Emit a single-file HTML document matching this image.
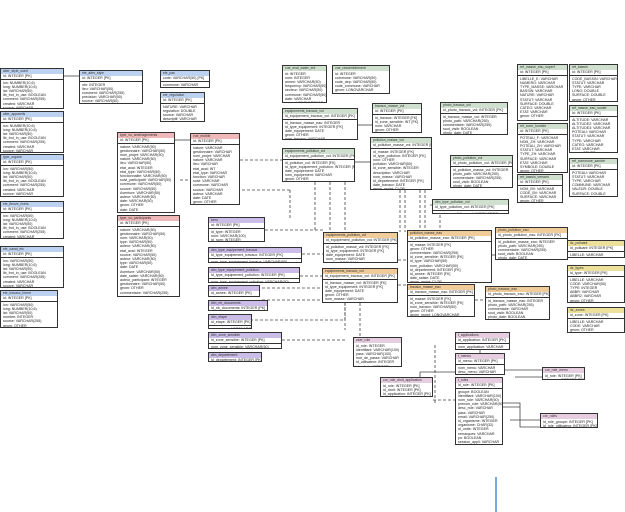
<!DOCTYPE html>
<html><head><meta charset="utf-8"><style>
html,body{margin:0;padding:0;background:#fff;width:625px;height:512px;overflow:hidden;position:relative}
.t{position:absolute;border:1px solid #333;background:#fff;overflow:hidden;font:3.6px/4.2px "Liberation Sans",sans-serif;color:#222;box-sizing:border-box}
.h{height:4.5px;font:3.4px/4.5px "Liberation Sans",sans-serif;padding-left:2px;color:#333;white-space:nowrap}
.p{border-bottom:1px solid #333;padding-left:2px;white-space:nowrap;height:5px;line-height:5px}
.b{padding:1px 2px;white-space:nowrap}
.B{background:#bcd2f0}.R{background:#f0b8b8}.P{background:#cbbde8}.G{background:#cfe0cf}.O{background:#f0cc9a}.Y{background:#ece09a}.L{background:#e6cde0}
svg{position:absolute;left:0;top:0}
</style></head><body>
<svg width="625" height="512">
<g stroke="#444" stroke-width="0.8" fill="none" stroke-dasharray="3,2">
<path d="M265 230 H323"/><path d="M302 254 H323"/><path d="M300 276 H322"/><path d="M262 288 H322"/>
<path d="M262 300 H340 V303"/><path d="M250 320 H345 V303"/><path d="M282 340 H345"/>
<path d="M315 182 V232"/><path d="M330 182 V232"/><path d="M345 182 V232"/>
<path d="M290 190 H240"/><path d="M290 190 V220"/>
<path d="M400 190 V232"/><path d="M405 190 V232"/><path d="M420 190 V268"/><path d="M425 190 V268"/>
<path d="M430 205 H440 V230"/><path d="M398 260 H407"/><path d="M398 285 H407"/>
<path d="M475 300 H485"/><path d="M345 303 V330"/><path d="M360 303 V340"/>
<path d="M180 180 H190"/><path d="M240 160 H282"/>
<path d="M435 345 V405"/><path d="M433 400 H455"/>
</g>
<g stroke="#444" stroke-width="0.8" fill="none">
<path d="M64 76 H79"/><path d="M175 140 H190"/>
<path d="M358 125 H372"/><path d="M355 162 H370"/><path d="M492 255 H500"/>
<path d="M420 372 H455"/><path d="M420 372 V377"/><path d="M505 370 H542"/><path d="M515 377 H542"/>
<path d="M503 403 H520 V427 H540"/><path d="M503 407 H520"/><path d="M510 420 H540"/>
<path d="M480 350 V353"/>
</g>
<path d="M496 477 V512" stroke="#7aa8e0" stroke-width="2"/>
</svg>

<div class="t" style="left:0;top:68px;width:64px;height:41px"><div class="h B">alter_style_used</div><div class="p">id: INTEGER [PK]</div><div class="b">lon: NUMBER(10,6)<br>long: NUMBER(10,6)<br>lat: VARCHAR(50)<br>lib_frot_in_use: BOOLEAN<br>comment: VARCHAR(255)<br>created: VARCHAR<br>source: VARCHAR<br>geom: OTHER</div></div>
<div class="t" style="left:0;top:111px;width:64px;height:42px"><div class="h B">alter_appareils</div><div class="p">id: INTEGER [PK]</div><div class="b">lon: NUMBER(10,6)<br>long: NUMBER(10,6)<br>lat: VARCHAR(50)<br>lib_frot_in_use: BOOLEAN<br>comment: VARCHAR(255)<br>created: VARCHAR<br>source: VARCHAR<br>geom: OTHER</div></div>
<div class="t" style="left:0;top:154px;width:64px;height:43px"><div class="h B">type_organe</div><div class="p">id: INTEGER [PK]</div><div class="b">lon: VARCHAR(50)<br>long: NUMBER(10,6)<br>lat: VARCHAR(50)<br>lib_frot_in_use: BOOLEAN<br>comment: VARCHAR(255)<br>created: VARCHAR<br>source: VARCHAR<br>geom: OTHER<br>geom_alt: OTHER</div></div>
<div class="t" style="left:0;top:201px;width:64px;height:38px"><div class="h B">ele_fleuve_rivers</div><div class="p">id: INTEGER [PK]</div><div class="b">lon: VARCHAR(50)<br>long: NUMBER(10,6)<br>lat: VARCHAR(50)<br>lib_frot_in_use: BOOLEAN<br>comment: VARCHAR(255)<br>created: VARCHAR<br>source: VARCHAR<br>geom: OTHER</div></div>
<div class="t" style="left:0;top:246px;width:64px;height:42px"><div class="h B">ele_canal_etc</div><div class="p">id: INTEGER [PK]</div><div class="b">lon: VARCHAR(50)<br>long: NUMBER(10,6)<br>lat: VARCHAR(50)<br>lib_frot_in_use: BOOLEAN<br>comment: VARCHAR(255)<br>created: VARCHAR<br>source: VARCHAR<br>geom: OTHER</div></div>
<div class="t" style="left:0;top:290px;width:58px;height:38px"><div class="h B">ele_travaux_forme</div><div class="p">id: INTEGER [PK]</div><div class="b">lon: VARCHAR(50)<br>long: NUMBER(10,6)<br>lat: VARCHAR(50)<br>nombre: INTEGER<br>source: VARCHAR(255)<br>geom: OTHER<br>geom: OTHER</div></div>
<div class="t" style="left:79px;top:70px;width:64px;height:34px"><div class="h B">ele_alter_style</div><div class="p">id: INTEGER [PK]</div><div class="b">nbr: INTEGER<br>lieu: VARCHAR(50)<br>comment: VARCHAR(255)<br>precision: VARCHAR(50)<br>source: VARCHAR(50)<br>geom: LONGVARCHAR</div></div>
<div class="t" style="left:160px;top:70px;width:50px;height:18px"><div class="h B">ele_pas</div><div class="p">code: VARCHAR(50) [PK]</div><div class="b">commune: VARCHAR<br>geom: OTHER</div></div>
<div class="t" style="left:160px;top:92px;width:45px;height:30px"><div class="h B">ele_regulation</div><div class="p">id: INTEGER [PK]</div><div class="b">NATURE: VARCHAR<br>regulation: DOUBLE<br>source: VARCHAR<br>descriptif: VARCHAR<br>geom: OTHER</div></div>

<div class="t" style="left:117px;top:132px;width:58px;height:81px"><div class="h R">type_vo_aménagements</div><div class="p">id: INTEGER [PK]</div><div class="b">nature: VARCHAR(50)<br>gestionnaire: VARCHAR(50)<br>nom_projet: VARCHAR(50)<br>nature: VARCHAR(50)<br>lieu: VARCHAR(50)<br>etat_aval: INTEGER<br>etat_type: VARCHAR(50)<br>fonctionnalite: VARCHAR(50)<br>suivi_participatif: VARCHAR(50)<br>commune: VARCHAR(50)<br>source: VARCHAR(50)<br>Aventure: VARCHAR(50)<br>auteur: VARCHAR(50)<br>date: VARCHAR(50)<br>geom: OTHER<br>date: DATE<br>id_date: INTEGER [FK]<br>geom_projet: LONGVARCHAR</div></div>
<div class="t" style="left:117px;top:215px;width:63px;height:82px"><div class="h R">type_vo_participants</div><div class="p">id: INTEGER [PK]</div><div class="b">nature: VARCHAR(50)<br>gestionnaire: VARCHAR(50)<br>nom: VARCHAR(50)<br>type: VARCHAR(50)<br>auteur: VARCHAR(50)<br>etat_aval: INTEGER<br>source: VARCHAR(50)<br>auteur: VARCHAR(50)<br>type: VARCHAR(50)<br>date: DATE<br>Aventure: VARCHAR(50)<br>date_saisie: VARCHAR(50)<br>auteur_participant: INTEGER<br>gestionnaire: VARCHAR(50)<br>geom: OTHER<br>commentaire: VARCHAR(255)</div></div>
<div class="t" style="left:190px;top:133px;width:50px;height:72px"><div class="h R">vue_mobile</div><div class="p">id: INTEGER [PK]</div><div class="b">nature: VARCHAR<br>gestionnaire: VARCHAR<br>nom_projet: VARCHAR<br>nature: VARCHAR<br>lieu: VARCHAR<br>etat_aval: INT<br>etat_type: VARCHAR<br>fonction: VARCHAR<br>suivi: VARCHAR<br>commune: VARCHAR<br>source: VARCHAR<br>auteur: VARCHAR<br>date: DATE<br>geom: OTHER</div></div>

<div class="t" style="left:208px;top:217px;width:57px;height:25px"><div class="h P">bero</div><div class="p">id: INTEGER [PK]</div><div class="b">id_type: INTEGER<br>nom: VARCHAR(100)<br>id_nom: INTEGER<br>date_ref: VARCHAR(100)</div></div>
<div class="t" style="left:208px;top:247px;width:94px;height:16px"><div class="h P">dim_type_equipement_travaux</div><div class="p">id_type_equipement_travaux: INTEGER [PK]</div><div class="b">nom_type_equipement_travaux: VARCHAR(50)</div></div>
<div class="t" style="left:208px;top:267px;width:92px;height:16px"><div class="h P">dim_type_equipement_pollution</div><div class="p">id_type_equipement_pollution: INTEGER [PK]</div><div class="b">nom_type_equipement_pollution: VARCHAR(50)</div></div>
<div class="t" style="left:208px;top:285px;width:52px;height:12px"><div class="h P">dim_annee</div><div class="p">id_annee: INTEGER [PK]</div></div>
<div class="t" style="left:208px;top:300px;width:60px;height:11px"><div class="h P">dim_nb_documents</div><div class="p">id_nb_documents: INTEGER [PK]</div></div>
<div class="t" style="left:208px;top:314px;width:44px;height:15px"><div class="h P">dim_etape</div><div class="p">id_etape: INTEGER [PK]</div><div class="b">nom_etape: VARCHAR(50)</div></div>
<div class="t" style="left:208px;top:332px;width:74px;height:17px"><div class="h P">dim_zone_sensible</div><div class="p">id_zone_sensible: INTEGER [PK]</div><div class="b">nom_zone_sensible: VARCHAR(50)</div></div>
<div class="t" style="left:208px;top:352px;width:54px;height:10px"><div class="h P">dim_departement</div><div class="p">id_departement: INTEGER [PK]</div></div>

<div class="t" style="left:282px;top:65px;width:45px;height:38px"><div class="h G">vue_eval_water_ent</div><div class="b">id: INTEGER<br>nom: INTEGER<br>annee: VARCHAR(50)<br>frequency: VARCHAR(50)<br>secteur: VARCHAR(50)<br>commune: VARCHAR(50)<br>date: VARCHAR<br>geom: LONGVARCHAR</div></div>
<div class="t" style="left:332px;top:65px;width:58px;height:29px"><div class="h G">vue_rassemblement</div><div class="b">id: INTEGER<br>commune: VARCHAR(50)<br>code_dep: VARCHAR(50)<br>code_commune: VARCHAR<br>geom: LONGVARCHAR</div></div>
<div class="t" style="left:282px;top:108px;width:76px;height:32px"><div class="h G">equipements_travaux_vol</div><div class="p">id_equipement_travaux_vol: INTEGER [PK]</div><div class="b">id_travaux_masse_eau: INTEGER<br>id_type_equipement: INTEGER [FK]<br>date_equipement: DATE<br>geom: OTHER<br>nom_travaux: VARCHAR<br>geom_projet: CLOB</div></div>
<div class="t" style="left:282px;top:148px;width:73px;height:34px"><div class="h G">equipements_pollution_vol</div><div class="p">id_equipement_pollution_vol: INTEGER [PK]</div><div class="b">id_pollution_vol: INTEGER [FK]<br>id_type_equipement_pollution: INTEGER [FK]<br>date_equipement: DATE<br>nom_equipement: VARCHAR<br>geom: OTHER<br>id_nb_documents: INTEGER [FK]</div></div>
<div class="t" style="left:372px;top:103px;width:50px;height:30px"><div class="h G">travaux_masse_vol</div><div class="p">id: INTEGER [PK]</div><div class="b">id_travaux: INTEGER [FK]<br>id_zone_sensible: INT [FK]<br>nom: VARCHAR<br>geom: OTHER<br>geom_projet: LONGVARCHAR</div></div>
<div class="t" style="left:370px;top:137px;width:62px;height:53px"><div class="h G">pollution_masse_vol</div><div class="p">id_pollution_masse_vol: INTEGER [PK]</div><div class="b">id_masse: INTEGER [FK]<br>id_type_pollution: INTEGER [FK]<br>nom: OTHER<br>pollution: VARCHAR(50)<br>id_zone_sensible: INTEGER<br>description: VARCHAR<br>nom_masse: VARCHAR<br>id_departement: INTEGER [FK]<br>date_travaux: DATE<br>geom_projet: CLOB</div></div>
<div class="t" style="left:440px;top:102px;width:68px;height:33px"><div class="h G">photo_travaux_vol</div><div class="p">id_photo_travaux_vol: INTEGER [PK]</div><div class="b">id_travaux_masse_vol: INTEGER<br>photo_path: VARCHAR(255)<br>commentaire: VARCHAR(255)<br>sout_visib: BOOLEAN<br>photo_date: DATE<br>legende: VARCHAR(255)</div></div>
<div class="t" style="left:450px;top:155px;width:63px;height:33px"><div class="h G">photo_pollution_vol</div><div class="p">id_photo_pollution_vol: INTEGER [PK]</div><div class="b">id_pollution_masse_vol: INTEGER<br>photo_path: VARCHAR(255)<br>commentaire: VARCHAR(255)<br>sout_visib: BOOLEAN<br>photo_date: DATE<br>legende: VARCHAR(255)</div></div>
<div class="t" style="left:432px;top:199px;width:77px;height:15px"><div class="h G">dim_type_pollution_vol</div><div class="p">id_type_pollution_vol: INTEGER [PK]</div><div class="b">nom_type_pollution_vol: VARCHAR(50)</div></div>

<div class="t" style="left:517px;top:64px;width:51px;height:57px"><div class="h G">ref_masse_eau_superf</div><div class="p">id: INTEGER [PK]</div><div class="b">LIBELLE_E: VARCHAR<br>NUMERO: VARCHAR<br>TYPE_MASSE: VARCHAR<br>BASSIN: VARCHAR<br>NATURE: VARCHAR<br>STATUT: VARCHAR<br>SURFACE: DOUBLE<br>CATEG: VARCHAR<br>ETAT: VARCHAR<br>geom: OTHER</div></div>
<div class="t" style="left:569px;top:64px;width:49px;height:38px"><div class="h G">ref_bassin</div><div class="p">id: INTEGER [PK]</div><div class="b">CODE_BASSIN: VARCHAR<br>STATUT: VARCHAR<br>TYPE: VARCHAR<br>LONG: DOUBLE<br>SURFACE: DOUBLE<br>geom: OTHER</div></div>
<div class="t" style="left:569px;top:105px;width:49px;height:48px"><div class="h G">ref_masse_eau_souter</div><div class="p">id: INTEGER [PK]</div><div class="b">ALTITUDE: VARCHAR<br>ALTITUDE2: VARCHAR<br>ALTITUDE3: VARCHAR<br>POTEAU: VARCHAR<br>STATUT: VARCHAR<br>TYPE: VARCHAR<br>CATEG: VARCHAR<br>ETAT: VARCHAR<br>geom: OTHER</div></div>
<div class="t" style="left:517px;top:123px;width:51px;height:50px"><div class="h G">ref_zone_humide</div><div class="p">id: INTEGER [PK]</div><div class="b">POTEAU_F: VARCHAR<br>NOM_ZH: VARCHAR<br>POTEAU_ZH: VARCHAR<br>STATUT: VARCHAR<br>TYPE_ZH: VARCHAR<br>SURFACE: VARCHAR<br>ETAT: VARCHAR<br>SYMBOLE: DOUBLE<br>geom: OTHER<br>ID_ZH: INTEGER</div></div>
<div class="t" style="left:517px;top:174px;width:46px;height:29px"><div class="h G">ref_bassin_versant</div><div class="p">id: INTEGER [PK]</div><div class="b">NOM_BV: VARCHAR<br>CODE_BV: VARCHAR<br>SURFACE: VARCHAR<br>geom: OTHER<br>ID_BV: INTEGER</div></div>
<div class="t" style="left:569px;top:158px;width:49px;height:39px"><div class="h G">ref_commune_sandre</div><div class="p">id: INTEGER [PK]</div><div class="b">POTEAU: VARCHAR<br>STATUT: VARCHAR<br>TYPE: VARCHAR<br>COMMUNE: VARCHAR<br>VALEUR: DOUBLE<br>SURFACE: DOUBLE<br>geom: OTHER</div></div>

<div class="t" style="left:323px;top:232px;width:75px;height:31px"><div class="h O">equipements_pollution_vol</div><div class="p">id_equipement_pollution_vol: INTEGER [PK]</div><div class="b">id_pollution_masse_vol: INTEGER [FK]<br>id_type_equipement: INTEGER [FK]<br>date_equipement: DATE<br>nom_masse: VARCHAR<br>nombre: BOOLEAN<br>id_nb_documents: INTEGER [FK]</div></div>
<div class="t" style="left:322px;top:268px;width:76px;height:35px"><div class="h O">equipements_travaux_vol</div><div class="p">id_equipement_travaux_vol: INTEGER [PK]</div><div class="b">id_travaux_masse_vol: INTEGER [FK]<br>id_type_equipement: INTEGER [FK]<br>date_equipement: DATE<br>geom: OTHER<br>nom_masse: VARCHAR<br>geom_projet: LONGVARCHAR</div></div>
<div class="t" style="left:407px;top:230px;width:85px;height:53px"><div class="h O">pollution_masse_eau</div><div class="p">id_pollution_masse_eau: INTEGER [PK]</div><div class="b">id_masse: INTEGER [FK]<br>geom: OTHER<br>commentaire: VARCHAR(255)<br>id_zone_sensible: INTEGER [FK]<br>id_type: VARCHAR(50)<br>nom_pollution: VARCHAR(50)<br>id_departement: INTEGER [FK]<br>id_annee: INTEGER [FK]<br>date_saisie: DATE<br>geom_projet: CLOB</div></div>
<div class="t" style="left:407px;top:284px;width:68px;height:33px"><div class="h O">travaux_masse_eau</div><div class="p">id_travaux_masse_eau: INTEGER [PK]</div><div class="b">id_masse: INTEGER [FK]<br>id_zone_sensible: INTEGER [FK]<br>nom_travaux: VARCHAR(50)<br>geom: OTHER<br>geom_projet: LONGVARCHAR</div></div>
<div class="t" style="left:495px;top:227px;width:73px;height:33px"><div class="h O">photo_pollution_eau</div><div class="p">id_photo_pollution_eau: INTEGER [PK]</div><div class="b">id_pollution_masse_eau: INTEGER<br>photo_path: VARCHAR(255)<br>commentaire: VARCHAR(255)<br>sout_visib: BOOLEAN<br>photo_date: DATE<br>legende: VARCHAR(255)</div></div>
<div class="t" style="left:485px;top:286px;width:65px;height:34px"><div class="h O">photo_travaux_eau</div><div class="p">id_photo_travaux_eau: INTEGER [PK]</div><div class="b">id_travaux_masse_eau: INTEGER<br>photo_path: VARCHAR(255)<br>commentaire: VARCHAR<br>sout_visib: BOOLEAN<br>photo_date: BOOLEAN<br>legende: VARCHAR(255)</div></div>
<div class="t" style="left:567px;top:240px;width:58px;height:18px"><div class="h Y">dz_polluant</div><div class="p">id_polluant: INTEGER [PK]</div><div class="b">LIBELLE: VARCHAR<br>geom: OTHER</div></div>
<div class="t" style="left:567px;top:265px;width:58px;height:38px"><div class="h Y">dz_types</div><div class="p">id_type: INTEGER [PK]</div><div class="b">LIBELLE: VARCHAR<br>CODE: VARCHAR(50)<br>TYPE: INTEGER<br>ABBR: VARCHAR<br>ABBR2: VARCHAR<br>geom: OTHER</div></div>
<div class="t" style="left:567px;top:307px;width:58px;height:26px"><div class="h Y">dz_zones</div><div class="p">id_zone: INTEGER [PK]</div><div class="b">LIBELLE: VARCHAR<br>CODE: VARCHAR<br>geom: OTHER</div></div>

<div class="t" style="left:353px;top:337px;width:49px;height:30px"><div class="h L">user_role</div><div class="b">id_role: INTEGER<br>identifiant: VARCHAR(100)<br>pass: VARCHAR(100)<br>mot_de_passe: VARCHAR<br>id_utilisateur: INTEGER<br>id_admin: INTEGER</div></div>
<div class="t" style="left:455px;top:332px;width:55px;height:18px"><div class="h L">t_applications</div><div class="p">id_application: INTEGER [PK]</div><div class="b">nom_application: VARCHAR<br>desc_application: VARCHAR</div></div>
<div class="t" style="left:455px;top:353px;width:50px;height:22px"><div class="h L">t_menus</div><div class="p">id_menu: INTEGER [PK]</div><div class="b">nom_menu: VARCHAR<br>desc_menu: VARCHAR<br>id_application: INTEGER [FK]</div></div>
<div class="t" style="left:380px;top:377px;width:53px;height:20px"><div class="h L">cor_role_droit_application</div><div class="b">id_role: INTEGER [PK]<br>id_droit: INTEGER [PK]<br>id_application: INTEGER [PK]</div></div>
<div class="t" style="left:455px;top:377px;width:48px;height:68px"><div class="h L">t_roles</div><div class="p">id_role: INTEGER [PK]</div><div class="b">groupe: BOOLEAN<br>identifiant: VARCHAR(100)<br>nom_role: VARCHAR(50)<br>prenom_role: VARCHAR(50)<br>desc_role: VARCHAR<br>pass: VARCHAR<br>email: VARCHAR(250)<br>id_organisme: INTEGER<br>organisme: CHAR(32)<br>id_unite: INTEGER<br>remarques: VARCHAR<br>pn: BOOLEAN<br>session_appli: VARCHAR<br>date_insert: TIMESTAMP<br>date_update: TIMESTAMP</div></div>
<div class="t" style="left:542px;top:367px;width:43px;height:13px"><div class="h L">cor_role_menu</div><div class="b">id_role: INTEGER [PK]<br>id_menu: INTEGER [PK]</div></div>
<div class="t" style="left:540px;top:413px;width:58px;height:15px"><div class="h L">cor_roles</div><div class="b">id_role_groupe: INTEGER [PK]<br>id_role_utilisateur: INTEGER [PK]</div></div>
</body></html>
